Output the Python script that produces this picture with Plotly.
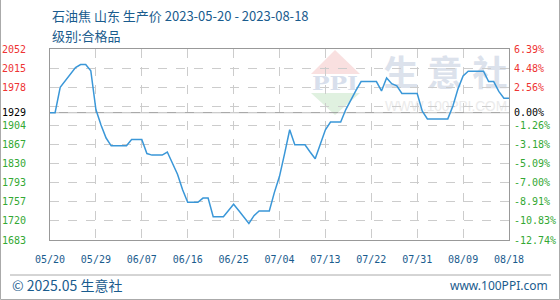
import base64
import pandas as pd
import plotly.graph_objects as go

# ---------------- data ----------------
start_date = "2023-05-20"
prices = [1929, 1929, 1978, 1990, 2003, 2016, 2022, 2022, 2010, 1935,
          1905, 1880, 1865, 1865, 1865, 1865, 1877, 1877, 1877, 1850,
          1847, 1847, 1847, 1853, 1830, 1810, 1780, 1756, 1756, 1756,
          1764, 1764, 1728, 1728, 1728, 1740, 1752, 1740, 1727, 1715,
          1730, 1739, 1739, 1739, 1775, 1806, 1850, 1896, 1867, 1867,
          1867, 1853, 1840, 1868, 1896, 1911, 1911, 1911, 1935, 1955,
          1972, 1989, 1989, 1989, 1989, 1971, 1996, 1985, 1981, 1966,
          1966, 1966, 1966, 1932, 1917, 1917, 1917, 1917, 1917, 1942,
          1975, 2000, 2009, 2009, 2009, 2009, 1989, 1989, 1970, 1957,
          1957]
dates = pd.date_range(start_date, periods=len(prices), freq="D")

grid_vals = [1683, 1719.9, 1756.8, 1793.7, 1830.6, 1867.5, 1904.4, 1941.3,
             1978.2, 2015.1, 2052]
left_labels = ["1683", "1720", "1757", "1793", "1830", "1867", "1904", "",
               "1978", "2015", "2052"]
right_labels = ["-12.74%", "-10.83%", "-8.91%", "-7.00%", "-5.09%", "-3.18%",
                "-1.26%", "", "2.56%", "4.48%", "6.39%"]
base_price = prices[0]
base_left_label = "1929"
base_right_label = "0.00%"

title_text = "石油焦 山东 生产价 2023-05-20 - 2023-08-18"
subtitle_text = "级别:合格品"
footer_left = "© 2025.05 生意社"
footer_right = "www.100PPI.com"

# ---------------- styles ----------------
RED = "#ee3333"
GREEN = "#33a833"
BLUE_TXT = "#1a5c8e"
LINE = "#3a97d8"
GRID = "#cccccc"
AXIS = "#999999"
W, H = 560, 300
L, R, T, B = 50, 51, 49, 60
PW, PH = W - L - R, H - T - B


def px(x):
    return (x - L) / PW


def py(y):
    return (H - B - y) / PH


def colored(text, val):
    if text == "":
        return ""
    if val > base_price:
        c = RED
    elif val < base_price:
        c = GREEN
    else:
        c = "#000000"
    return f'<span style="color:{c}">{text}</span>'


tickvals = grid_vals + [base_price]
lt = [colored(t, v) for t, v in zip(left_labels, grid_vals)] + [colored(base_left_label, base_price)]
rt = [colored(t, v) for t, v in zip(right_labels, grid_vals)] + [colored(base_right_label, base_price)]

# watermark svg
svg = f'''<svg xmlns="http://www.w3.org/2000/svg" width="200" height="70" viewBox="0 0 200 70" preserveAspectRatio="none">
<polygon points="25,2 1,26 50,26" fill="#f9e0e0"/>
<text x="25" y="42" text-anchor="middle" font-family="DejaVu Serif" font-weight="bold" font-size="19" fill="#d8dfec" textLength="46" lengthAdjust="spacingAndGlyphs">PPI</text>
<polygon points="1,45 50,45 25,67" fill="#e0f1e0"/>
<text x="91" y="38" text-anchor="middle" font-family="Noto Sans CJK SC" font-weight="bold" font-size="35" fill="#dce2ec">生</text>
<text x="135" y="38" text-anchor="middle" font-family="Noto Sans CJK SC" font-weight="bold" font-size="35" fill="#dce2ec">意</text>
<text x="180" y="38" text-anchor="middle" font-family="Noto Sans CJK SC" font-weight="bold" font-size="35" fill="#dce2ec">社</text>
<text x="136" y="63" text-anchor="middle" font-family="Liberation Sans" font-size="15" fill="#ebebeb" textLength="122" lengthAdjust="spacingAndGlyphs">WWW.100PPI.COM</text>
</svg>'''
svg_uri = "data:image/svg+xml;base64," + base64.b64encode(svg.encode("utf-8")).decode()

fig = go.Figure()
fig.add_trace(go.Scatter(x=dates, y=prices, mode="lines",
                         line=dict(color=LINE, width=1.5),
                         hoverinfo="x+y", showlegend=False))
# invisible trace to drive the right axis
fig.add_trace(go.Scatter(x=dates, y=prices, mode="lines", yaxis="y2",
                         line=dict(color="rgba(0,0,0,0)", width=0),
                         hoverinfo="skip", showlegend=False))

tickfont = dict(family="DejaVu Sans Mono", size=10)

fig.update_layout(
    width=W, height=H,
    margin=dict(l=L, r=R, t=T, b=B, pad=0, autoexpand=False),
    paper_bgcolor="white",
    plot_bgcolor="rgba(0,0,0,0)",
    showlegend=False,
    xaxis=dict(
        type="date", automargin=False,
        range=[dates[0], dates[-1]],
        tick0=dates[0], dtick=9 * 86400000,
        tickformat="%m/%d",
        tickfont=dict(family="DejaVu Sans Mono", size=10, color=BLUE_TXT),
        ticks="", ticklabelstandoff=10,
        showgrid=True, gridcolor=GRID, griddash="dash", gridwidth=1,
        showline=True, linecolor=AXIS, linewidth=1, mirror=True,
        zeroline=False, fixedrange=True,
    ),
    yaxis=dict(
        automargin=False,
        range=[grid_vals[0], grid_vals[-1]],
        tickmode="array", tickvals=tickvals, ticktext=lt,
        tickfont=tickfont, ticks="", ticklabelstandoff=21,
        showgrid=True, gridcolor=GRID, griddash="dash", gridwidth=1,
        showline=True, linecolor=AXIS, linewidth=1, mirror=True,
        zeroline=False, fixedrange=True,
    ),
    yaxis2=dict(
        automargin=False,
        overlaying="y", side="right",
        range=[grid_vals[0], grid_vals[-1]],
        tickmode="array", tickvals=tickvals, ticktext=rt,
        tickfont=tickfont, ticks="", ticklabelstandoff=4,
        showgrid=False, showline=False, zeroline=False, fixedrange=True,
    ),
    shapes=[
        # baseline at the start price
        dict(type="line", xref="paper", yref="y", x0=0, x1=1,
             y0=base_price, y1=base_price, line=dict(color=AXIS, width=1),
             layer="between"),
        # footer separator
        dict(type="line", xref="paper", yref="paper", x0=px(10), x1=px(551),
             y0=py(275), y1=py(275), line=dict(color="#aaaaaa", width=1)),
        # outer frame (left, bottom, right)
        dict(type="path", xref="paper", yref="paper",
             path=f"M {px(0.5)} {py(0)} L {px(0.5)} {py(299.5)} L {px(559.5)} {py(299.5)} L {px(559.5)} {py(0)}",
             line=dict(color="#aaaaaa", width=1)),
    ],
    images=[dict(source=svg_uri, xref="paper", yref="paper",
                 x=px(310), y=py(48), sizex=200 / PW, sizey=70 / PH,
                 xanchor="left", yanchor="top", sizing="stretch", layer="below")],
    annotations=[
        dict(text=title_text, xref="paper", yref="paper", x=px(50), y=py(15.5),
             xanchor="left", yanchor="middle", showarrow=False,
             font=dict(family="Noto Sans CJK SC", size=13, color=BLUE_TXT)),
        dict(text=subtitle_text, xref="paper", yref="paper", x=px(50), y=py(35),
             xanchor="left", yanchor="middle", showarrow=False,
             font=dict(family="Noto Sans CJK SC", size=13, color=BLUE_TXT)),
        dict(text=footer_left, xref="paper", yref="paper", x=px(10), y=py(285),
             xanchor="left", yanchor="middle", showarrow=False,
             font=dict(family="Noto Sans CJK SC", size=14, color=BLUE_TXT)),
        dict(text=footer_right, xref="paper", yref="paper", x=px(550), y=py(285),
             xanchor="right", yanchor="middle", showarrow=False,
             font=dict(family="Noto Sans", size=12, color=BLUE_TXT)),
    ],
)

fig.write_html("out.html", config={"displayModeBar": False})
